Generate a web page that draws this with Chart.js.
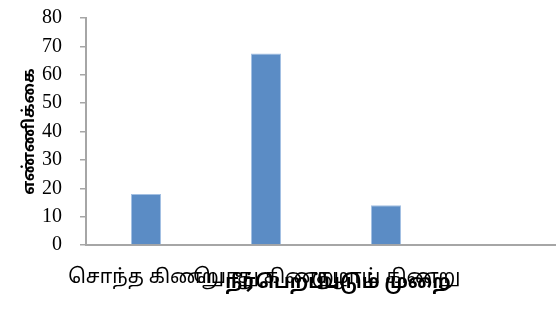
<!DOCTYPE html>
<html>
<head>
<meta charset="utf-8">
<script src="https://cdn.jsdelivr.net/npm/chart.js@4/dist/chart.umd.min.js"></script>
<style>
  html, body { margin: 0; padding: 0; background: #ffffff; overflow: hidden; }
  #wrap { width: 570px; height: 315px; position: relative; }
</style>
</head>
<body>
<div id="wrap"><canvas id="c"></canvas></div>
<script>
const categories = ["சொந்த கிணறு", "பொது கிணறு", "குழாய் கிணறு", ""];
const values = [18, 67.5, 14, null];
const yTicks = [0, 10, 20, 30, 40, 50, 60, 70, 80];
const xTitle = "நீர்பெறப்படும் முறை";
const yTitle = "எண்ணிக்கை";

const axisGray = "#a6a6a6";

new Chart(document.getElementById("c"), {
  type: "bar",
  data: {
    labels: categories,
    datasets: [{
      data: values,
      backgroundColor: "#5b8cc5",
      borderColor: "#a3c0e3",
      borderWidth: 1,
      categoryPercentage: 1,
      barPercentage: 0.25
    }]
  },
  options: {
    responsive: true,
    maintainAspectRatio: false,
    animation: false,
    devicePixelRatio: 1,
    layout: { padding: { left: 0, right: 4, top: 18, bottom: 0 } },
    plugins: { legend: { display: false }, tooltip: { enabled: false } },
    scales: {
      x: {
        grid: { display: false },
        border: { display: true, color: axisGray, width: 2 },
        ticks: {
          autoSkip: false, maxRotation: 0, minRotation: 0,
          color: "#000", padding: 14,
          font: { family: "'Noto Sans Tamil', 'Noto Sans', sans-serif", size: 19.5 }
        },
        title: {
          display: true, text: "\u2003 " + xTitle, color: "#000",
          font: { family: "'Noto Sans Tamil', 'Noto Sans', sans-serif", size: 19, weight: "bold" },
          padding: { top: 0, bottom: 19 }
        },
        afterFit: (s) => { s.height = 70; s.paddingLeft = 0; s.paddingRight = 0; }
      },
      y: {
        min: 0, max: 80,
        afterBuildTicks: (s) => { s.ticks = yTicks.map(v => ({ value: v })); },
        grid: { display: true, drawOnChartArea: false, drawTicks: true, tickLength: 6, color: axisGray, lineWidth: 1.5 },
        border: { display: true, color: axisGray, width: 2 },
        ticks: {
          autoSkip: false,
          color: "#000", padding: 18,
          font: { family: "'Liberation Serif', 'Times New Roman', serif", size: 20 }
        },
        title: {
          display: true, text: yTitle, color: "#000",
          font: { family: "'Noto Sans Tamil', 'Noto Sans', sans-serif", size: 16, weight: "bold" },
          padding: { top: 21, bottom: 0 }
        },
        afterFit: (s) => { s.width = 86; s.paddingTop = 0; s.paddingBottom = 0; }
      }
    }
  }
});
</script>
</body>
</html>
